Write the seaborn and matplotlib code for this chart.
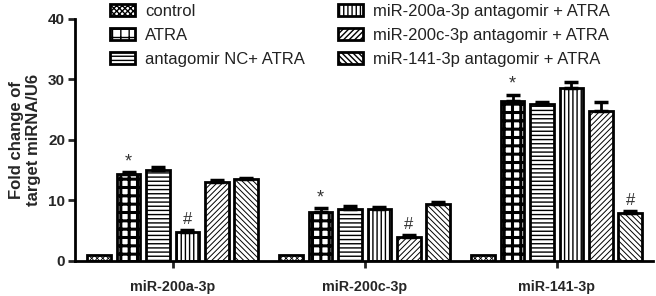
import matplotlib
matplotlib.use("Agg")
import matplotlib.pyplot as plt
import seaborn as sns
import pandas as pd
import numpy as np
from matplotlib.patches import Patch

genes = ["miR-200a-3p", "miR-200c-3p", "miR-141-3p"]
groups = ["control", "ATRA", "antagomir NC+ ATRA",
          "miR-200a-3p antagomir + ATRA", "miR-200c-3p antagomir + ATRA",
          "miR-141-3p antagomir + ATRA"]
# values per group, order = genes
control = [1.0, 1.0, 1.0]
atra = [14.3, 8.0, 26.4]
nc_atra = [15.0, 8.6, 25.9]
a200a = [4.8, 8.6, 28.6]
a200c = [13.0, 3.9, 24.8]
a141 = [13.5, 9.4, 7.9]
err_control = [0.0, 0.0, 0.0]
err_atra = [0.4, 0.7, 1.1]
err_nc = [0.5, 0.4, 0.4]
err_a200a = [0.3, 0.3, 1.0]
err_a200c = [0.3, 0.3, 1.4]
err_a141 = [0.2, 0.4, 0.3]
star_group = "ATRA"
hash_groups = ["miR-200a-3p antagomir + ATRA", "miR-200c-3p antagomir + ATRA",
               "miR-141-3p antagomir + ATRA"]

vals = [control, atra, nc_atra, a200a, a200c, a141]
errs = [err_control, err_atra, err_nc, err_a200a, err_a200c, err_a141]
hatches = ["xxxxxx", "++", "----", "||||", "//////", "\\\\\\\\\\\\"]
hatch_lw = [0.6, 2.2, 1.0, 1.0, 0.7, 0.7]

rows = []
for g, v in zip(groups, vals):
    for gene, y in zip(genes, v):
        rows.append({"gene": gene, "group": g, "value": y})
df = pd.DataFrame(rows)

sns.set_style("ticks")
plt.rcParams["font.family"] = ["Liberation Sans", "DejaVu Sans"]

fig = plt.figure(figsize=(6.56, 2.96), dpi=100)
ax = fig.add_axes([0.114, 0.119, 0.881, 0.817])

pal = {g: "white" for g in groups}
sns.barplot(data=df, x="gene", y="value", hue="group", order=genes,
            hue_order=groups, palette=pal, width=0.92, gap=0.19,
            errorbar=None, edgecolor="black", linewidth=2.0,
            legend=False, ax=ax)

bars = [p for p in ax.patches]
for gi, g in enumerate(groups):
    for ci in range(len(genes)):
        p = bars[gi * len(genes) + ci]
        p.set_hatch(hatches[gi])
        p.set_hatch_linewidth(hatch_lw[gi])
        x = p.get_x() + p.get_width() / 2
        top = p.get_height()
        e = errs[gi][ci]
        if e > 0:
            ax.errorbar(x, top, yerr=[[0], [e]], fmt="none", ecolor="black",
                        elinewidth=2.0, capsize=5, capthick=2.5, zorder=1)
        if g == star_group:
            ax.text(x, top + e + 0.3, "*", ha="center", va="bottom",
                    fontsize=13, color="#333333")
        if g == hash_groups[ci]:
            ax.text(x, top + e + 0.5, "#", ha="center", va="bottom",
                    fontsize=12, color="#333333")

ax.set_ylim(0, 40)
ax.set_xlim(-0.51, 2.5)
ax.set_yticks([0, 10, 20, 30, 40])
ax.set_ylabel("Fold change of\ntarget miRNA/U6", fontsize=12, fontweight="bold",
              labelpad=5)
ax.set_xlabel("")
for lab in ax.get_yticklabels():
    lab.set_fontweight("bold")
    lab.set_fontsize(11)
for lab in ax.get_xticklabels():
    lab.set_fontweight("bold")
    lab.set_fontsize(10.3)
ax.tick_params(axis="y", width=2, length=5, pad=2)
ax.tick_params(axis="x", width=2, length=5, pad=9)
for s in ["left", "bottom"]:
    ax.spines[s].set_linewidth(2)
    ax.spines[s].set_color("black")
sns.despine(ax=ax)

handles = []
for h, lw in zip(hatches, hatch_lw):
    hp = Patch(facecolor="white", edgecolor="black", linewidth=2, hatch=h)
    hp.set_hatch_linewidth(lw)
    handles.append(hp)
leg = fig.legend(handles, groups, loc="upper left", bbox_to_anchor=(0.145, 1.038),
                 ncol=2, frameon=False, fontsize=12, handlelength=1.5,
                 handleheight=0.7, handletextpad=0.6, columnspacing=2.0,
                 labelspacing=0.55)
for t in leg.get_texts():
    t.set_color("#222222")

fig.savefig("out.png", dpi=100)
